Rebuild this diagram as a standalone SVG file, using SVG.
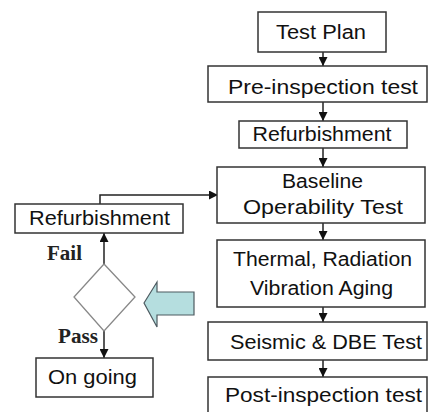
<svg xmlns="http://www.w3.org/2000/svg" width="429" height="412" viewBox="0 0 429 412">
  <style>
    .box { fill: #ffffff; stroke: #333333; stroke-width: 1.5; }
    .lbl { font-family: "Liberation Sans", Arial, sans-serif; font-size: 20px; fill: #111111; text-anchor: middle; }
    .dec { font-family: "Liberation Serif", "Times New Roman", serif; font-size: 20px; font-weight: bold; fill: #222222; }
    .conn { fill: none; stroke: #222222; stroke-width: 1.5; }
  </style>
  <defs>
    <marker id="ah" markerUnits="userSpaceOnUse" markerWidth="9" markerHeight="9" refX="9" refY="4.5" orient="auto">
      <path d="M0,0 L9,4.5 L0,9 z" fill="#111111"/>
    </marker>
  </defs>
  <rect width="429" height="412" fill="#ffffff"/>

  <g id="connectors">
    <path class="conn" d="M323,52 V66" marker-end="url(#ah)"/>
    <path class="conn" d="M323,102 V121" marker-end="url(#ah)"/>
    <path class="conn" d="M323,148 V167" marker-end="url(#ah)"/>
    <path class="conn" d="M323,223 V240" marker-end="url(#ah)"/>
    <path class="conn" d="M323,307 V322" marker-end="url(#ah)"/>
    <path class="conn" d="M323,360 V377" marker-end="url(#ah)"/>
    <path class="conn" d="M100,204 V195 H218" marker-end="url(#ah)"/>
    <path class="conn" d="M104,264 V233" marker-end="url(#ah)"/>
    <path class="conn" d="M104,331 V358" marker-end="url(#ah)"/>
  </g>

  <g id="test-plan">
    <rect class="box" x="258" y="12" width="128" height="40"/>
    <text class="lbl" x="321" y="39" textLength="90" lengthAdjust="spacingAndGlyphs">Test Plan</text>
  </g>
  <g id="pre-inspection">
    <rect class="box" x="208" y="66" width="219" height="36"/>
    <text class="lbl" x="323" y="94" textLength="190" lengthAdjust="spacingAndGlyphs">Pre-inspection test</text>
  </g>
  <g id="refurbishment-main">
    <rect class="box" x="239" y="121" width="168" height="27"/>
    <text class="lbl" x="322" y="141" textLength="139" lengthAdjust="spacingAndGlyphs">Refurbishment</text>
  </g>
  <g id="baseline">
    <rect class="box" x="217" y="167" width="208" height="56"/>
    <text class="lbl" x="322.5" y="188" textLength="81" lengthAdjust="spacingAndGlyphs">Baseline</text>
    <text class="lbl" x="323" y="214" textLength="160" lengthAdjust="spacingAndGlyphs">Operability  Test</text>
  </g>
  <g id="aging">
    <rect class="box" x="217" y="240" width="208" height="67"/>
    <text class="lbl" x="322.5" y="266" textLength="179" lengthAdjust="spacingAndGlyphs">Thermal, Radiation</text>
    <text class="lbl" x="321.5" y="295" textLength="143" lengthAdjust="spacingAndGlyphs">Vibration Aging</text>
  </g>
  <g id="seismic">
    <rect class="box" x="208" y="322" width="219" height="38"/>
    <text class="lbl" x="326" y="349" textLength="192" lengthAdjust="spacingAndGlyphs">Seismic &amp; DBE Test</text>
  </g>
  <g id="post-inspection">
    <rect class="box" x="208" y="377" width="219" height="45"/>
    <text class="lbl" x="323.5" y="402" textLength="197" lengthAdjust="spacingAndGlyphs">Post-inspection test</text>
  </g>

  <g id="refurbishment-left">
    <rect class="box" x="15" y="204" width="168" height="29"/>
    <text class="lbl" x="99.5" y="225" textLength="141" lengthAdjust="spacingAndGlyphs">Refurbishment</text>
  </g>
  <g id="decision">
    <polygon points="104,264 135,297 104,331 74,297" fill="#ffffff" stroke="#888888" stroke-width="1.3"/>
    <text class="dec" x="47" y="260" textLength="35" lengthAdjust="spacingAndGlyphs">Fail</text>
    <text class="dec" x="58" y="343" textLength="40" lengthAdjust="spacingAndGlyphs">Pass</text>
  </g>
  <g id="on-going">
    <rect class="box" x="36" y="358" width="117" height="39"/>
    <text class="lbl" x="92.5" y="384" textLength="89" lengthAdjust="spacingAndGlyphs">On going</text>
  </g>
  <g id="block-arrow">
    <polygon points="144,303 157,282 157,292 194,292 194,315 157,315 157,327" fill="#b5dedf" stroke="#4d5a60" stroke-width="1.2"/>
  </g>
</svg>
